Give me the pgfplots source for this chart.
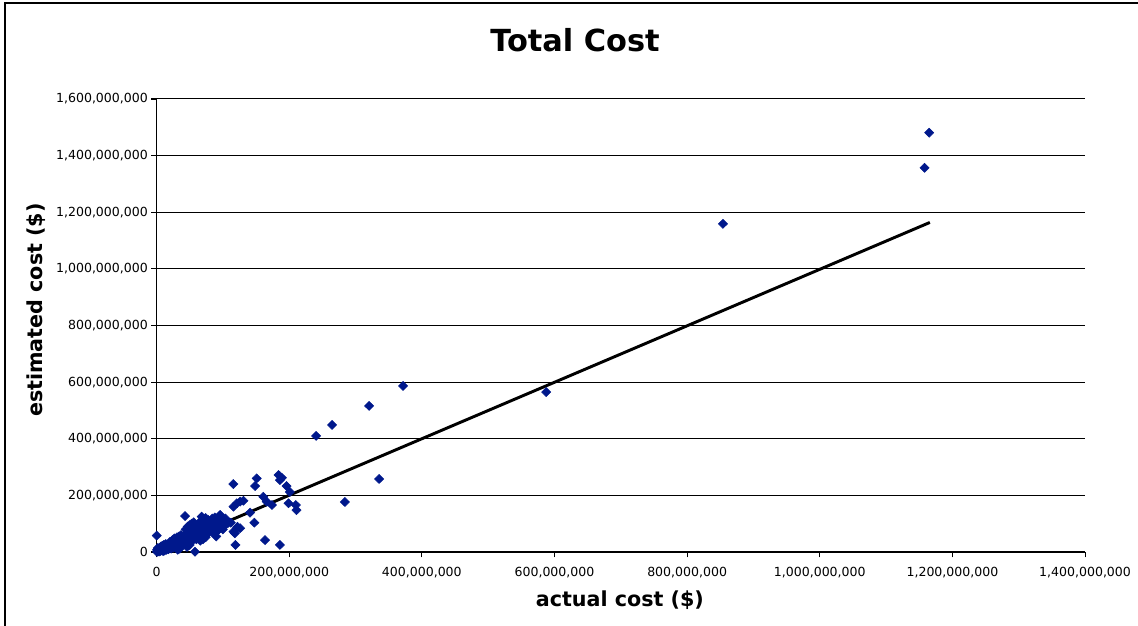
\documentclass[border=0pt]{standalone}
\usepackage{pgfplots}
\pgfplotsset{compat=1.18}
\usepackage{fontspec}
\setmainfont{DejaVu Sans}
\definecolor{ptblue}{RGB}{0,24,140}

% values in millions of dollars (e6)
\pgfplotstableread{
x y
0.5e6 1e6
1e6 3e6
2e6 1e6
3e6 5e6
4e6 2e6
5e6 7e6
6e6 4e6
7e6 10e6
8e6 6e6
9e6 12e6
10e6 8e6
11e6 14e6
12e6 10e6
13e6 18e6
14e6 12e6
15e6 20e6
16e6 15e6
17e6 22e6
18e6 16e6
19e6 25e6
20e6 18e6
1e6 8e6
3e6 12e6
5e6 15e6
8e6 18e6
2e6 6e6
4e6 9e6
6e6 12e6
10e6 3e6
12e6 5e6
15e6 8e6
18e6 10e6
0.3e6 58e6
2e6 14e6
7e6 20e6
11e6 25e6
14e6 28e6
9e6 22e6
21e6 28e6
22e6 20e6
23e6 32e6
24e6 26e6
25e6 35e6
26e6 22e6
27e6 38e6
28e6 30e6
29e6 42e6
30e6 26e6
31e6 36e6
32e6 45e6
33e6 30e6
34e6 40e6
35e6 48e6
36e6 34e6
37e6 44e6
38e6 52e6
39e6 38e6
40e6 46e6
22e6 12e6
25e6 15e6
28e6 18e6
30e6 14e6
33e6 20e6
36e6 25e6
39e6 28e6
24e6 42e6
27e6 48e6
31e6 52e6
34e6 55e6
37e6 60e6
20e6 35e6
32e6 8e6
35e6 12e6
41e6 55e6
42e6 48e6
43e6 127e6
43e6 62e6
44e6 40e6
45e6 58e6
46e6 52e6
47e6 68e6
48e6 44e6
49e6 60e6
50e6 72e6
51e6 55e6
52e6 48e6
53e6 78e6
54e6 62e6
55e6 70e6
56e6 50e6
57e6 85e6
58e6 66e6
59e6 75e6
60e6 58e6
44e6 80e6
47e6 90e6
50e6 95e6
53e6 100e6
56e6 105e6
42e6 30e6
45e6 35e6
48e6 36e6
52e6 38e6
58e6 1e6
55e6 42e6
60e6 45e6
46e6 18e6
50e6 25e6
61e6 80e6
62e6 70e6
63e6 92e6
64e6 75e6
65e6 100e6
66e6 85e6
67e6 110e6
68e6 125e6
69e6 90e6
70e6 105e6
71e6 78e6
72e6 115e6
73e6 95e6
74e6 120e6
75e6 88e6
76e6 108e6
77e6 98e6
78e6 113e6
79e6 82e6
80e6 100e6
62e6 55e6
65e6 50e6
68e6 60e6
72e6 65e6
75e6 60e6
78e6 70e6
66e6 40e6
70e6 45e6
74e6 52e6
81e6 110e6
82e6 90e6
84e6 118e6
85e6 95e6
86e6 105e6
88e6 122e6
89e6 80e6
90e6 100e6
92e6 112e6
94e6 92e6
95e6 128e6
96e6 131e6
97e6 102e6
98e6 115e6
100e6 108e6
102e6 95e6
104e6 118e6
106e6 100e6
108e6 104e6
84e6 70e6
88e6 65e6
92e6 75e6
96e6 85e6
100e6 80e6
90e6 55e6
112e6 103.5e6
108e6 103.5e6
115.8e6 240e6
151e6 260e6
148.6e6 233e6
184e6 272e6
186e6 254e6
189e6 262e6
196e6 233e6
201e6 212e6
199e6 172e6
210e6 166e6
211e6 148e6
161e6 195e6
166e6 178e6
174e6 166e6
116e6 160e6
121e6 172e6
126e6 178e6
131e6 181e6
141e6 139e6
147.5e6 103.5e6
121e6 84e6
118e6 66e6
116e6 72e6
163.6e6 42e6
186e6 25e6
119e6 25e6
126e6 84e6
122e6 89e6
240.6e6 410e6
264.7e6 448.8e6
320.5e6 516e6
371.7e6 586.6e6
335.6e6 258e6
284e6 176.7e6
587.5e6 565e6
854e6 1159e6
1158e6 1357e6
1165e6 1481e6
}\costdata

\begin{document}
\begin{tikzpicture}
\useasboundingbox (0,0) rectangle (853.5pt,468.75pt);
\draw[line width=1.1pt] (3.75pt,-5pt) -- (3.75pt,466.5pt) -- (860pt,466.5pt);
\begin{axis}[
    at={(117.4pt,54.75pt)}, anchor=south west,
    scale only axis,
    width=696.4pt, height=339.75pt,
    xmin=0, xmax=1.4e9, ymin=0, ymax=1.6e9,
    xtick={0,2e8,4e8,6e8,8e8,1e9,1.2e9,1.4e9},
    ytick={0,2e8,4e8,6e8,8e8,1e9,1.2e9,1.4e9,1.6e9},
    scaled ticks=false,
    axis x line*=bottom, axis y line*=left,
    axis line style={-, line width=0.8pt},
    tick align=outside, major tick length=4pt,
    tick style={black, line width=0.8pt},
    ymajorgrids, grid style={black, line width=0.75pt},
    /pgf/number format/.cd, fixed, precision=0, 1000 sep={,}, assume math mode=true,
    /pgfplots/.cd,
    ticklabel style={font=\fontsize{9.4}{11}\selectfont},
    yticklabel style={xshift=1pt},
    xticklabel style={yshift=-4pt},
    title={Total Cost},
    title style={font=\fontsize{22.8}{26}\selectfont\bfseries, at={(0.4507,1.1126)}, anchor=center},
    xlabel={actual cost (\$)},
    ylabel={estimated cost (\$)},
    label style={font=\fontsize{15.5}{18}\selectfont\bfseries},
    xlabel style={at={(0.499,-0.106)}, anchor=center},
    ylabel style={at={(-0.1298,0.534)}, anchor=center, rotate=0},
]
\addplot[only marks, mark=diamond*, mark size=3.4pt, color=ptblue, mark options={fill=ptblue, draw=ptblue, xscale=1.35}]
    table {\costdata};
\addplot[black, line width=2.2pt, no marks] coordinates {(0,1e6) (1166e6,1164e6)};
\end{axis}
\end{tikzpicture}
\end{document}
